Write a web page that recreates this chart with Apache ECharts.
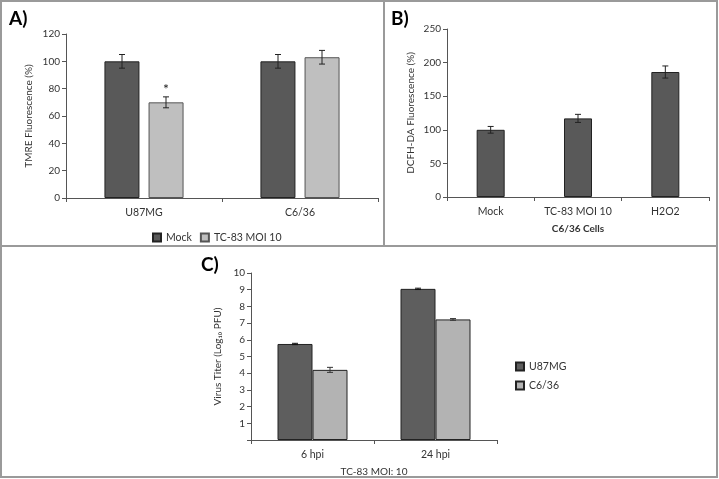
<!DOCTYPE html>
<html>
<head>
<meta charset="utf-8">
<script src="https://cdn.jsdelivr.net/npm/echarts@6/dist/echarts.min.js"></script>
<style>
  html, body { margin: 0; padding: 0; background: #fff; }
  #chart { width: 719px; height: 479px; }
</style>
</head>
<body>
<div id="chart"></div>
<script>
// panel A - TMRE
var catsA = ['U87MG', 'C6/36']
var mockA = [100, 100]
var mockErrA = [5, 5]
var tcA = [70, 103]
var tcErrA = [4, 5]

// panel B - DCFH-DA, C6/36 cells
var catsB = ['Mock', 'TC-83 MOI 10', 'H2O2']
var valsB = [100, 117, 186]
var errB = [5, 6, 9]

// panel C - virus titer
var catsC = ['6 hpi', '24 hpi']
var u87C = [5.75, 9.05]
var u87ErrC = [0.04, 0.04]
var c636C = [4.2, 7.22]
var c636ErrC = [0.15, 0.05]

var dark = '#595959'
var light = '#bfbfbf'
var font = 'Lato, "Open Sans", sans-serif'

function errData(vals, errs) {
  return vals.map(function (v, i) { return [i, v, errs[i]] })
}

// error bar series, offset = px shift of the bar centre from the category centre
function errSeries(name, idx, vals, errs, offset, color) {
  return {
    type: 'custom',
    name: name,
    xAxisIndex: idx,
    yAxisIndex: idx,
    silent: true,
    z: 5,
    data: errData(vals, errs),
    renderItem: function (params, api) {
      var x = api.value(0)
      var v = api.value(1)
      var e = api.value(2)
      var hi = api.coord([x, v + e])
      var lo = api.coord([x, v - e])
      var cx = hi[0] + offset
      var style = { stroke: color, lineWidth: 1 }
      return {
        type: 'group',
        children: [
          { type: 'line', shape: { x1: cx, y1: hi[1], x2: cx, y2: lo[1] }, style: style },
          { type: 'line', shape: { x1: cx - 3, y1: hi[1], x2: cx + 3, y2: hi[1] }, style: style },
          { type: 'line', shape: { x1: cx - 3, y1: lo[1], x2: cx + 3, y2: lo[1] }, style: style }
        ]
      }
    }
  }
}

var axisLine = { lineStyle: { color: '#555', width: 1 } }
var axisLabel = { color: '#333', fontSize: 10, fontFamily: font }

function xAxisOf(idx, cats, name) {
  return {
    type: 'category',
    gridIndex: idx,
    data: cats,
    axisLine: axisLine,
    axisTick: { show: true, alignWithLabel: false, length: 4, lineStyle: { color: '#555' } },
    axisLabel: Object.assign({ margin: 9, interval: 0 }, axisLabel, { fontSize: 10.5 }),
    name: name || '',
    nameLocation: 'middle',
    nameGap: 27,
    nameTextStyle: { fontSize: 10, fontFamily: font, color: '#333', fontWeight: idx === 1 ? 'bold' : 'normal' },
    splitLine: { show: false }
  }
}

function yAxisOf(idx, max, interval, name, gap, hideZero) {
  return {
    type: 'value',
    gridIndex: idx,
    min: 0,
    max: max,
    interval: interval,
    axisLine: { show: true, lineStyle: { color: '#555', width: 1 } },
    axisTick: { show: true, length: 4, lineStyle: { color: '#555' } },
    axisLabel: Object.assign({
      margin: 6,
      formatter: function (v) { return (hideZero && v === 0) ? '' : v }
    }, axisLabel),
    splitLine: { show: false },
    name: name,
    nameLocation: 'middle',
    nameGap: gap,
    nameTextStyle: { fontSize: 10, fontFamily: font, color: '#333' }
  }
}

var barBorder = { borderColor: '#222', borderWidth: 1 }

var chart = echarts.init(document.getElementById('chart'), null, { renderer: 'canvas' })
chart.setOption({
  backgroundColor: '#fff',
  animation: false,
  textStyle: { fontFamily: font },
  grid: [
    { left: 66, top: 34, width: 312, height: 164 },
    { left: 447, top: 29, width: 262, height: 168 },
    { left: 251, top: 273, width: 246, height: 167 }
  ],
  xAxis: [
    xAxisOf(0, catsA),
    xAxisOf(1, catsB, 'C6/36 Cells'),
    xAxisOf(2, catsC, 'TC-83 MOI: 10')
  ],
  yAxis: [
    yAxisOf(0, 120, 20, 'TMRE Fluorescence (%)', 32),
    yAxisOf(1, 250, 50, 'DCFH-DA Fluorescence (%)', 31),
    yAxisOf(2, 10, 1, 'Virus Titer (Log\u2081\u2080 PFU)', 28, true)
  ],
  legend: [
    {
      data: ['Mock', 'TC-83 MOI 10'],
      left: 147, top: 227,
      itemWidth: 8, itemHeight: 8, itemGap: 8,
      icon: 'rect',
      textStyle: { fontSize: 10.5, fontFamily: font, color: '#333' }
    },
    {
      data: ['U87MG', 'C6/36'],
      orient: 'vertical',
      left: 510, top: 356,
      itemWidth: 8, itemHeight: 8, itemGap: 8,
      icon: 'rect',
      textStyle: { fontSize: 10.5, fontFamily: font, color: '#333' }
    }
  ],
  graphic: [
    { type: 'rect', shape: { x: 1, y: 1, width: 383, height: 245 }, style: { fill: 'none', stroke: '#9a9a9a', lineWidth: 2 } },
    { type: 'rect', shape: { x: 384, y: 1, width: 333, height: 245 }, style: { fill: 'none', stroke: '#9a9a9a', lineWidth: 2 } },
    { type: 'rect', shape: { x: 1, y: 246, width: 716, height: 231 }, style: { fill: 'none', stroke: '#9a9a9a', lineWidth: 2 } },
    { type: 'text', left: 9, top: 9, style: { text: 'A)', font: 'bold 19px ' + font, fill: '#000' } },
    { type: 'text', left: 391, top: 9, style: { text: 'B)', font: 'bold 19px ' + font, fill: '#000' } },
    { type: 'text', left: 201, top: 255, style: { text: 'C)', font: 'bold 19px ' + font, fill: '#000' } }
  ],
  series: [
    {
      name: 'Mock', type: 'bar', xAxisIndex: 0, yAxisIndex: 0,
      data: mockA, barWidth: 35, barGap: '26%',
      itemStyle: Object.assign({ color: dark }, barBorder)
    },
    {
      name: 'TC-83 MOI 10', type: 'bar', xAxisIndex: 0, yAxisIndex: 0,
      data: tcA.map(function (v, i) {
        return i === 0
          ? { value: v, label: { show: true, position: 'top', distance: 6, formatter: '*', fontSize: 14, color: '#222' } }
          : v
      }),
      barWidth: 35,
      itemStyle: { color: light, borderColor: '#555', borderWidth: 1 }
    },
    errSeries('errMockA', 0, mockA, mockErrA, -22, '#222'),
    errSeries('errTcA', 0, tcA, tcErrA, 22, '#222'),
    {
      name: 'C6/36 Cells', type: 'bar', xAxisIndex: 1, yAxisIndex: 1,
      data: valsB, barWidth: 28,
      itemStyle: Object.assign({ color: dark }, barBorder)
    },
    errSeries('errB', 1, valsB, errB, 0, '#222'),
    {
      name: 'U87MG', type: 'bar', xAxisIndex: 2, yAxisIndex: 2,
      data: u87C, barWidth: 35, barGap: '0%',
      itemStyle: Object.assign({ color: '#5e5e5e' }, barBorder)
    },
    {
      name: 'C6/36', type: 'bar', xAxisIndex: 2, yAxisIndex: 2,
      data: c636C, barWidth: 35,
      itemStyle: Object.assign({ color: '#b3b3b3' }, barBorder)
    },
    errSeries('errU87C', 2, u87C, u87ErrC, -17.5, '#111'),
    errSeries('errC636C', 2, c636C, c636ErrC, 17.5, '#333')
  ]
})
</script>
</body>
</html>
